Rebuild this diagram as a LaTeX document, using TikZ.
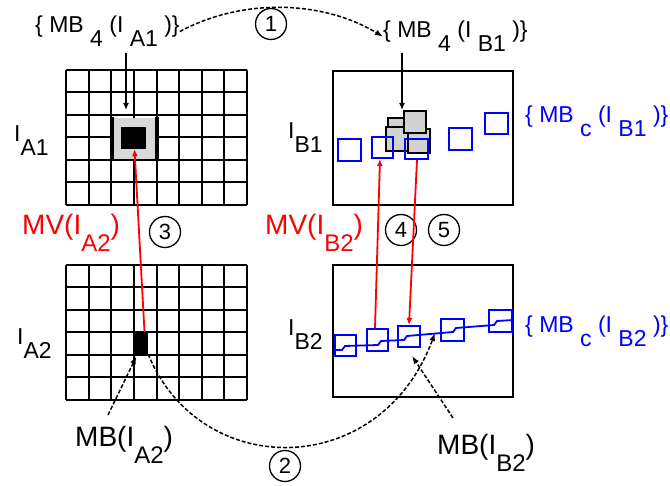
\documentclass[tikz,border=0pt]{standalone}
\usepackage{fontspec}
\setmainfont{Liberation Sans}
\usetikzlibrary{positioning, arrows.meta, calc}

\definecolor{mvred}{RGB}{255,0,0}
\definecolor{mbblue}{RGB}{0,0,255}
\newcommand{\lowsub}[1]{\raisebox{-0.6em}{#1}}

\begin{document}
\begin{tikzpicture}[x=1pt, y=-1pt,
    gline/.style={line width=2pt},
    frame/.style={draw, line width=2.2pt, inner sep=0pt},
    blk/.style={fill=black, inner sep=0pt},
    gsq/.style={draw, fill=gray!35, line width=2pt, minimum width=22pt, minimum height=22pt, inner sep=0pt},
    bsq/.style={draw=mbblue, line width=2pt, minimum width=23pt, minimum height=22pt, inner sep=0pt},
    lbl/.style={inner sep=0pt, font=\fontsize{23}{23}\selectfont},
    big/.style={inner sep=0pt, font=\fontsize{28}{28}\selectfont},
    num/.style={circle, draw, line width=1.3pt, minimum size=31pt, inner sep=0pt, font=\fontsize{22}{22}\selectfont},
    mv/.style={mvred, line width=1.8pt, -{Latex[length=7pt,width=6pt]}},
    dn/.style={line width=1.6pt, -{Latex[length=7pt,width=6pt]}},
    ptr/.style={line width=1.5pt, dash pattern=on 4pt off 2pt, -{Latex[length=8pt,width=6pt]}}]
  \useasboundingbox (0,0) rectangle (670,486);

  % frames of picture A
  \foreach \top in {70, 265} {
    \foreach \i in {0,...,8}
      \draw[gline] (66+\i*22.625,\top) -- ++(0,135);
    \foreach \j in {0,...,6}
      \draw[gline] (66,\top+\j*22.5) -- ++(181,0);
  }
  \fill[gray!30] (113,118.5) rectangle (156,159.5);
  \draw[line width=3.2pt] (112,117) -- (112,161) (157,117) -- (157,161);
  \node[blk, minimum width=25pt, minimum height=22pt] (mbA1) at (133.5,138) {};
  \node[blk, minimum width=15pt, minimum height=22pt] (mbA2) at (140.5,343) {};

  % frames of picture B
  \node[frame, minimum width=180pt, minimum height=134pt] (frB1) at (423,138) {};
  \node[frame, minimum width=180pt, minimum height=132pt] (frB2) at (423,331) {};

  % candidates in I_B1
  \node[gsq] (g1) at (399,129) {};
  \node[gsq, minimum height=24pt] (g2) at (397,139) {};
  \node[gsq, minimum height=24pt] (g3) at (419,141) {};
  \node[gsq] (g4) at (415,122) {};
  \node[bsq] (b1) at (349.5,150.5) {};
  \node[bsq, minimum width=21pt, minimum height=21pt] (b2) at (382.5,147.5) {};
  \node[bsq, minimum height=20pt] (b3) at (416,149) {};
  \node[bsq] (b4) at (460,139.5) {};
  \node[bsq, minimum height=21pt] (b5) at (496,123.5) {};

  % chain in I_B2
  \draw[mbblue, line width=1.8pt] (333,350) -- (342,350) -- (345,346) -- (378,345) -- (381,341)
    -- (404,340) -- (407,336) -- (430,334) -- (453,332) -- (456,328) -- (494,325) -- (497,321) -- (513,320);
  \node[bsq, minimum width=21pt, minimum height=21pt] (s1) at (345.5,345.5) {};
  \node[bsq, minimum width=21pt] (s2) at (377.5,340) {};
  \node[bsq, minimum width=22pt, minimum height=21pt] (s3) at (409,336.5) {};
  \node[bsq] (s4) at (452.5,330.5) {};
  \node[bsq] (s5) at (500,321.5) {};

  % labels
  \node[lbl, anchor=base west] (lblA1) at (35,33) {\{ MB \lowsub{4} (I \lowsub{A1} )\}};
  \node[lbl, anchor=base west] (lblB1) at (383,38) {\{ MB \lowsub{4} (I \lowsub{B1} )\}};
  \node[lbl, anchor=base west, mbblue] (lblcB1) at (525,123) {\{ MB \lowsub{c} (I \lowsub{B1} )\}};
  \node[lbl, anchor=base west, mbblue] (lblcB2) at (525,333) {\{ MB \lowsub{c} (I \lowsub{B2} )\}};
  \node[lbl, anchor=base west] (iA1) at (14,142) {I\lowsub{A1}};
  \node[lbl, anchor=base west] (iA2) at (17,345) {I\lowsub{A2}};
  \node[lbl, anchor=base west] (iB1) at (288,139) {I\lowsub{B1}};
  \node[lbl, anchor=base west] (iB2) at (288,336) {I\lowsub{B2}};
  \node[big, anchor=base west, mvred] (mvA) at (22,235) {MV(I\lowsub{\fontsize{24}{24}\selectfont A2})};
  \node[big, anchor=base west, mvred] (mvB) at (265,235) {MV(I\lowsub{\fontsize{24}{24}\selectfont B2})};
  \node[big, anchor=base west] (mbA2lbl) at (75,447) {MB(I\lowsub{\fontsize{24}{24}\selectfont A2})};
  \node[big, anchor=base west] (mbB2lbl) at (437,455) {MB(I\lowsub{\fontsize{24}{24}\selectfont B2})};

  \node[num] (n1) at (271,24) {1};
  \node[num] (n2) at (285,466) {2};
  \node[num] (n3) at (165,232) {3};
  \node[num] (n4) at (401,230) {4};
  \node[num] (n5) at (444,230) {5};

  % connectors
  \coordinate (tA1) at (126,53);
  \coordinate (tB1) at (402,53);
  \draw[dn] (tA1) -- (126,110);
  \draw[dn] (tB1) -- (402,110);

  \draw[ptr] (lblA1.east) .. controls (240,-1) and (320,-1) .. (lblB1.west);
  \coordinate (hit) at (435,333);
  \draw[ptr] (mbA2.south east) .. controls (200,481) and (380,481) .. (hit);
  \coordinate (tA2) at (108,415);
  \coordinate (tB2) at (453,418);
  \draw[ptr] (tA2) -- ([xshift=-4pt,yshift=-2pt]mbA2.south);
  \draw[ptr] (tB2) -- ([xshift=3pt,yshift=-8pt]s3.south);

  \draw[mv] ([xshift=4pt]mbA2.north) -- ([xshift=1pt]mbA1.south);
  \draw[mv] ([xshift=-2.5pt]s2.north) -- ([xshift=-2.5pt]b2.south);
  \draw[mv] ([xshift=1pt]b3.south) -- (s3.north);
\end{tikzpicture}
\end{document}
